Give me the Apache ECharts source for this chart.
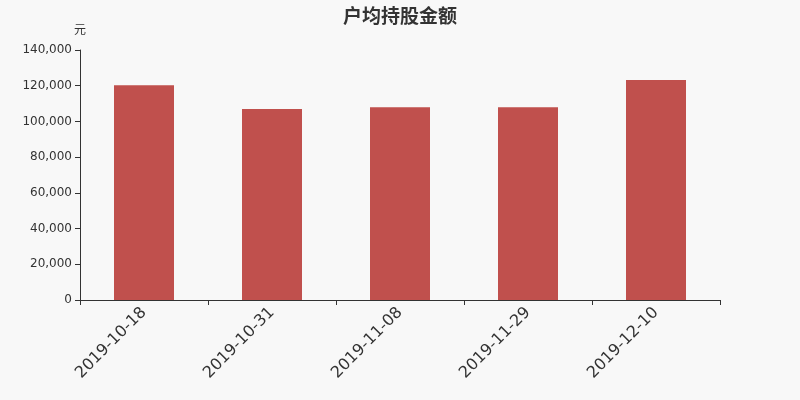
<!DOCTYPE html>
<html>
<head>
<meta charset="utf-8">
<script src="https://cdn.jsdelivr.net/npm/echarts@6/dist/echarts.min.js"></script>
<style>
  html, body { margin: 0; padding: 0; background: #f8f8f8; }
  #main { width: 800px; height: 400px; }
</style>
</head>
<body>
<div id="main"></div>
<script>
// 日期
var dates = ['2019-10-18', '2019-10-31', '2019-11-08', '2019-11-29', '2019-12-10'];
// 户均持股金额(元)
var amounts = [120300, 106900, 108000, 108000, 123200];

var myChart = echarts.init(document.getElementById('main'));
myChart.setOption({
    backgroundColor: '#f8f8f8',
    animation: false,
    title: {
        text: '户均持股金额',
        left: 'center',
        top: 1,
        textStyle: {
            color: '#333',
            fontSize: 19,
            fontWeight: 'bold',
            fontFamily: 'Noto Sans CJK SC'
        }
    },
    grid: {
        left: 80,
        right: 80,
        top: 50,
        bottom: 100
    },
    xAxis: {
        type: 'category',
        data: dates,
        axisLine: { lineStyle: { color: '#333' } },
        axisTick: { show: true, alignWithLabel: false, lineStyle: { color: '#333' } },
        axisLabel: {
            rotate: 45,
            interval: 0,
            color: '#333',
            fontSize: 16,
            fontFamily: 'DejaVu Sans',
            margin: 10
        }
    },
    yAxis: {
        type: 'value',
        name: '元',
        min: 0,
        max: 140000,
        interval: 20000,
        nameGap: 15,
        nameTextStyle: {
            color: '#333',
            fontSize: 12,
            fontFamily: 'Noto Sans CJK SC',
            align: 'center'
        },
        axisLine: { show: true, lineStyle: { color: '#333' } },
        axisTick: { show: true, lineStyle: { color: '#333' } },
        splitLine: { show: false },
        axisLabel: {
            color: '#333',
            fontSize: 12,
            fontFamily: 'DejaVu Sans',
            formatter: function (v) {
                return v.toLocaleString('en-US');
            }
        }
    },
    series: [{
        type: 'bar',
        data: amounts,
        barWidth: 60,
        itemStyle: {
            color: '#c0504d'
        }
    }]
});
</script>
</body>
</html>
